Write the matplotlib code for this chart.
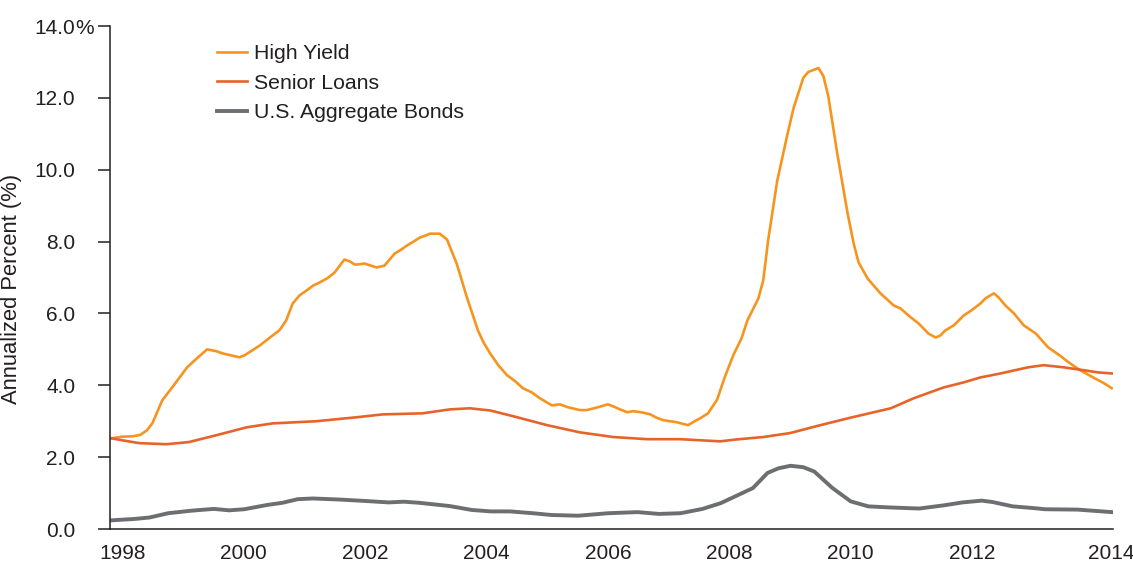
import numpy as np
import matplotlib.pyplot as plt

plt.rcParams['font.family'] = ['Liberation Sans', 'DejaVu Sans']

# Rolling annualized volatility (%), read by date (decimal years)
hy_years = [1997.81, 1998.0, 1998.17, 1998.3, 1998.41, 1998.5, 1998.66, 1998.85, 1999.07, 1999.25,
            1999.4, 1999.55, 1999.65, 1999.8, 1999.93, 2000.01, 2000.15, 2000.26, 2000.45, 2000.59,
            2000.7, 2000.81, 2000.92, 2001.04, 2001.15, 2001.25, 2001.38, 2001.5, 2001.66, 2001.75,
            2001.83, 2001.92, 2001.99, 2002.1, 2002.19, 2002.32, 2002.49, 2002.6, 2002.69, 2002.8,
            2002.9, 2003.0, 2003.07, 2003.23, 2003.35, 2003.51, 2003.68, 2003.86, 2003.95, 2004.06,
            2004.2, 2004.34, 2004.47, 2004.6, 2004.75, 2004.88, 2005.0, 2005.08, 2005.21, 2005.34,
            2005.54, 2005.65, 2005.84, 2006.0, 2006.08, 2006.2, 2006.32, 2006.42, 2006.58, 2006.7,
            2006.8, 2006.91, 2007.14, 2007.32, 2007.45, 2007.52, 2007.65, 2007.8, 2007.92, 2008.07,
            2008.2, 2008.3, 2008.48, 2008.56, 2008.64, 2008.79, 2008.96, 2009.06, 2009.22, 2009.3,
            2009.47, 2009.55, 2009.63, 2009.78, 2009.95, 2010.05, 2010.13, 2010.28, 2010.49, 2010.71,
            2010.82, 2010.99, 2011.12, 2011.28, 2011.4, 2011.48, 2011.56, 2011.7, 2011.86, 2012.0,
            2012.14, 2012.22, 2012.36, 2012.44, 2012.55, 2012.69, 2012.85, 2013.05, 2013.25, 2013.46,
            2013.59, 2013.76, 2013.96, 2014.17, 2014.3]
hy_vals = [2.52, 2.57, 2.58, 2.62, 2.75, 2.95, 3.58, 4.0, 4.5, 4.78,
           5.0, 4.95, 4.89, 4.83, 4.78, 4.83, 4.98, 5.1, 5.35, 5.53,
           5.8, 6.28, 6.5, 6.64, 6.78, 6.86, 6.98, 7.14, 7.5, 7.45,
           7.36, 7.37, 7.39, 7.33, 7.28, 7.33, 7.67, 7.78, 7.89, 8.0,
           8.11, 8.17, 8.22, 8.22, 8.06, 7.39, 6.44, 5.53, 5.2, 4.89,
           4.55, 4.28, 4.12, 3.92, 3.8, 3.64, 3.52, 3.44, 3.47, 3.39,
           3.31, 3.31, 3.39, 3.47, 3.42, 3.33, 3.25, 3.28, 3.24, 3.19,
           3.1, 3.03, 2.97, 2.89, 3.02, 3.08, 3.22, 3.6, 4.2, 4.85,
           5.3, 5.81, 6.42, 6.92, 8.03, 9.69, 11.0, 11.72, 12.56, 12.72,
           12.83, 12.61, 12.06, 10.44, 8.78, 7.94, 7.42, 6.97, 6.56, 6.22,
           6.14, 5.89, 5.72, 5.44, 5.33, 5.39, 5.53, 5.67, 5.94, 6.1,
           6.28, 6.42, 6.56, 6.44, 6.22, 6.0, 5.67, 5.44, 5.06, 4.81,
           4.64, 4.44, 4.25, 4.06, 3.92]

sl_years = [1997.81, 1998.0, 1998.28, 1998.73, 1999.1, 1999.55, 2000.05, 2000.48, 2001.2, 2001.86,
            2002.29, 2002.95, 2003.4, 2003.73, 2003.89, 2004.06, 2004.44, 2005.0, 2005.54, 2006.09,
            2006.65, 2007.19, 2007.85, 2008.1, 2008.56, 2009.0, 2009.5, 2010.0, 2010.66, 2011.04,
            2011.53, 2011.86, 2012.14, 2012.47, 2012.92, 2013.18, 2013.51, 2013.84, 2014.07, 2014.3]
sl_vals = [2.53, 2.47, 2.39, 2.36, 2.42, 2.61, 2.83, 2.94, 3.0, 3.11,
           3.19, 3.22, 3.33, 3.36, 3.33, 3.3, 3.14, 2.89, 2.69, 2.56,
           2.5, 2.5, 2.44, 2.49, 2.56, 2.67, 2.89, 3.1, 3.36, 3.64,
           3.94, 4.08, 4.22, 4.33, 4.5, 4.56, 4.5, 4.42, 4.36, 4.33]

agg_years = [1997.81, 1998.2, 1998.45, 1998.76, 1999.14, 1999.51, 1999.76, 2000.01, 2000.39, 2000.64,
             2000.89, 2001.14, 2001.58, 2002.01, 2002.39, 2002.64, 2002.89, 2003.39, 2003.76, 2004.07,
             2004.39, 2004.76, 2005.07, 2005.51, 2006.01, 2006.49, 2006.84, 2007.2, 2007.56, 2007.86,
             2008.1, 2008.39, 2008.63, 2008.81, 2009.01, 2009.22, 2009.4, 2009.7, 2010.0, 2010.29,
             2010.65, 2011.13, 2011.54, 2011.84, 2012.16, 2012.34, 2012.67, 2013.03, 2013.2, 2013.74,
             2014.3]
agg_vals = [0.24, 0.28, 0.32, 0.44, 0.51, 0.56, 0.52, 0.55, 0.67, 0.73,
            0.83, 0.85, 0.82, 0.78, 0.74, 0.76, 0.73, 0.64, 0.53, 0.49,
            0.49, 0.44, 0.39, 0.37, 0.44, 0.47, 0.42, 0.44, 0.56, 0.72,
            0.91, 1.14, 1.56, 1.69, 1.76, 1.72, 1.6, 1.14, 0.77, 0.63,
            0.6, 0.57, 0.66, 0.74, 0.79, 0.75, 0.63, 0.58, 0.55, 0.54,
            0.47]

year_ticks = [1998, 2000, 2002, 2004, 2006, 2008, 2010, 2012, 2014.3]
year_labels = ['1998', '2000', '2002', '2004', '2006', '2008', '2010', '2012', '2014']
pct_ticks = [0, 2, 4, 6, 8, 10, 12, 14]

ink = '#231F20'

fig = plt.figure(figsize=(11.33, 5.62), dpi=100)
ax = fig.add_axes([0.0971, 0.0587, 0.8852, 0.895])

ax.plot(hy_years, hy_vals, color='#F7941E', lw=1.9, label='High Yield')
ax.plot(sl_years, sl_vals, color='#E8632A', lw=1.9, label='Senior Loans')
ax.plot(agg_years, agg_vals, color='#6D6E71', lw=2.8, label='U.S. Aggregate Bonds')

ax.set_xlim(1997.8, 2014.32)
ax.set_ylim(0, 14)

ax.spines['top'].set_visible(False)
ax.spines['right'].set_visible(False)
for s in ('left', 'bottom'):
    ax.spines[s].set_color(ink)
    ax.spines[s].set_linewidth(1.1)

ax.set_yticks(pct_ticks)
ax.set_yticklabels([f'{v:.1f}' for v in pct_ticks])
ax.tick_params(axis='y', direction='out', length=8.6, width=1.1, color=ink,
               pad=16.5, labelsize=15, labelcolor=ink)
ax.set_xticks(year_ticks)
ax.set_xticklabels(year_labels)
ax.tick_params(axis='x', length=0, pad=11, labelsize=15, labelcolor=ink)

# percent sign hangs off the top tick label
ax.annotate('%', xy=(0, 14), xycoords=('axes fraction', 'data'),
            xytext=(-25.2, 0), textcoords='offset points',
            ha='left', va='center_baseline', fontsize=15, color=ink)

ax.set_ylabel('Annualized Percent (%)', fontsize=15.8, color=ink)
ax.yaxis.set_label_coords(-0.0877, 0.477)

ax.legend(loc='upper left', bbox_to_anchor=(0.096, 0.985), frameon=False,
          fontsize=15.3, handlelength=1.42, handletextpad=0.33,
          labelspacing=0.5, borderpad=0, labelcolor=ink)

fig.savefig('out.png', dpi=100)
